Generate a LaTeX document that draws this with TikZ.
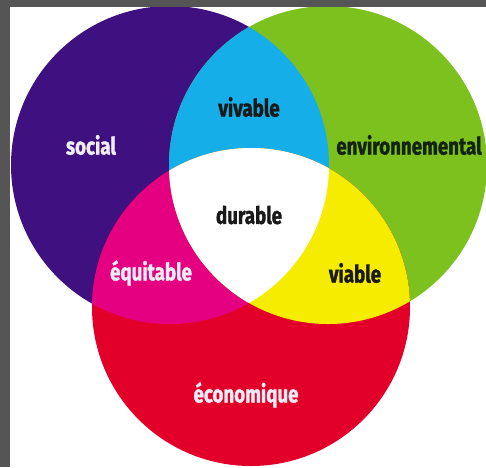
\documentclass[tikz,border=0pt]{standalone}
\usepackage{fontspec}
\newfontfamily\vennfont[FakeStretch=0.78, FakeBold=1.4]{Fira Sans}
\usetikzlibrary{positioning}

\definecolor{socialC}{RGB}{62,16,128}
\definecolor{envC}{RGB}{125,193,31}
\definecolor{ecoC}{RGB}{226,0,42}
\definecolor{vivC}{RGB}{22,174,232}
\definecolor{equC}{RGB}{228,0,128}
\definecolor{viaC}{RGB}{245,236,0}
\definecolor{frameC}{RGB}{85,85,85}
\definecolor{envText}{RGB}{20,36,12}

\begin{document}
\begin{tikzpicture}[
  x=1pt, y=-1pt,
  lab/.style={font=\vennfont\bfseries\fontsize{24}{24}\selectfont, inner sep=0pt},
  labW/.style={lab, text=white!92!socialC},
  labB/.style={lab, text=black!90}
]
\useasboundingbox (0,0) rectangle (486,467);
\fill[white] (0,0) rectangle (486,467);

% centres of the three circles
\coordinate (cS) at (170,165);
\coordinate (cE) at (328,165);
\coordinate (cC) at (251,307);
\def\rad{159}

% the three circles
\fill[socialC] (cS) circle (\rad);
\fill[envC] (cE) circle (\rad);
\fill[ecoC] (cC) circle (\rad);

% pairwise overlaps
\begin{scope}
  \clip (cS) circle (\rad);
  \fill[vivC] (cE) circle (\rad);
  \fill[equC] (cC) circle (\rad);
\end{scope}
\begin{scope}
  \clip (cE) circle (\rad);
  \fill[viaC] (cC) circle (\rad);
  % centre, common to all three
  \clip (cS) circle (\rad);
  \fill[white] (cC) circle (\rad);
\end{scope}

% grey frame on the left and top
\fill[frameC] (0,0) rectangle (10,467);
\fill[frameC] (0,0) rectangle (486,7);

% labels
\node[labW] (social) at (91,145) {social};
\node[lab, text=envText] (env) at (409,145) {environnemental};
\node[labW] (eco) at (246,395) {économique};
\node[labB] (vivable) at (249,107) {vivable};
\node[labB] (durable) at (249,215) {durable};
\node[labW] (equitable) at (151,273) {équitable};
\node[labB] (viable) at (355,273) {viable};

\end{tikzpicture}
\end{document}
